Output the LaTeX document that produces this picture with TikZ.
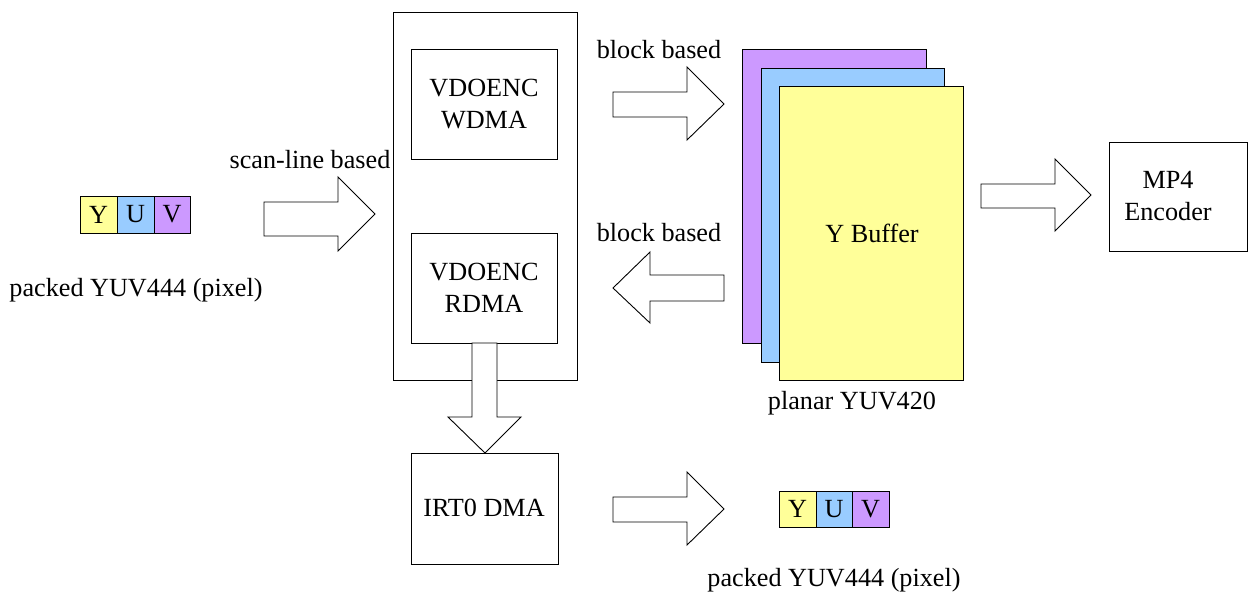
\documentclass[tikz,border=0pt]{standalone}
\usepackage{fontspec}
\setmainfont{Liberation Serif}
\begin{document}
\begin{tikzpicture}[x=1pt,y=-1pt,
  every node/.style={font=\fontsize{26.2}{32.5}\selectfont, inner sep=0pt},
  box/.style={draw=black, line width=0.9pt},
  barrow/.style={draw=black, fill=white, line width=0.9pt, line join=miter},
  ycol/.style={box, fill=yfill},
  ucol/.style={box, fill=ufill},
  vcol/.style={box, fill=vfill},
  lbl/.style={anchor=center}]
\definecolor{yfill}{HTML}{FFFF99}
\definecolor{ufill}{HTML}{99CCFF}
\definecolor{vfill}{HTML}{CC99FF}
\useasboundingbox (0,0) rectangle (1248,595);

% left packed YUV
\draw[ycol] (80,196) rectangle (117,233) node[midway] (ly) {Y};
\draw[ucol] (117,196) rectangle (154,233) node[midway] (lu) {U};
\draw[vcol] (154,196) rectangle (190,233) node[midway] (lv) {V};
\node[lbl] (lpk) at (136,290) {packed YUV444 (pixel)};

% scan-line arrow
\node[lbl] (scan) at (310,160) {scan-line based};
\draw[barrow] (264,202) -- (338,202) -- (338,177) -- (375,214) -- (338,251) -- (338,236) -- (264,236) -- cycle;

% big box
\draw[box] (393,12) rectangle (577,380);
\draw[box] (411,49) rectangle (557,159);
\node[lbl, align=center] (wdma) at (484,104) {VDOENC\\WDMA};
\draw[box] (411,233) rectangle (557,343);
\node[lbl, align=center] (rdma) at (484,288) {VDOENC\\RDMA};

% down arrow
\draw[barrow] (472,343) -- (497,343) -- (497,417) -- (521,417) -- (485,453) -- (448,417) -- (472,417) -- cycle;

% IRT0 DMA
\draw[box] (411,453) rectangle (558,564);
\node[lbl] (irt) at (484,508) {IRT0 DMA};

% block based top
\node[lbl] (bb1) at (659,50) {block based};
\draw[barrow] (613,92) -- (687,92) -- (687,67) -- (724,104) -- (687,140) -- (687,117) -- (613,117) -- cycle;

% block based bottom
\node[lbl] (bb2) at (659,233) {block based};
\draw[barrow] (724,275) -- (650,275) -- (650,252) -- (613,288) -- (650,323) -- (650,301) -- (724,301) -- cycle;

% buffer stack
\draw[vcol] (742,49) rectangle (926,343);
\draw[ucol] (761,68) rectangle (944,362);
\draw[ycol] (779,86) rectangle (963,380);
\node[lbl] (yb) at (872,233) {Y Buffer};
\node[lbl] (pl) at (852,403) {planar YUV420};

% arrow to MP4
\draw[barrow] (981,184) -- (1055,184) -- (1055,159) -- (1091,195) -- (1055,231) -- (1055,208) -- (981,208) -- cycle;
\draw[box] (1109,142) rectangle (1247,251);
\node[lbl, align=center] (mp4) at (1168,196) {MP4\\Encoder};

% bottom arrow
\draw[barrow] (613,497) -- (687,497) -- (687,472) -- (724,509) -- (687,545) -- (687,522) -- (613,522) -- cycle;

% bottom packed YUV
\draw[ycol] (779,491) rectangle (816,527) node[midway] (by) {Y};
\draw[ucol] (816,491) rectangle (852,527) node[midway] (bu) {U};
\draw[vcol] (852,491) rectangle (889,527) node[midway] (bv) {V};
\node[lbl] (bpk) at (834,580) {packed YUV444 (pixel)};
\end{tikzpicture}
\end{document}
